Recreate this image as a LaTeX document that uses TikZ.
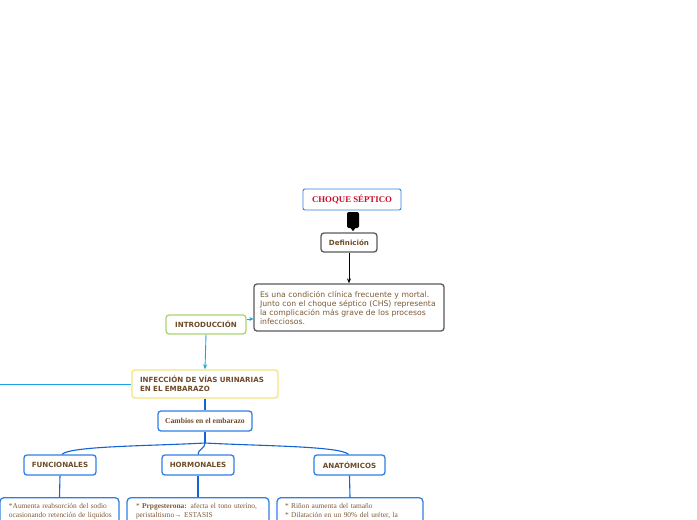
\documentclass[tikz,border=0pt]{standalone}
\usepackage{fontspec}
\setmainfont{Liberation Serif}
\newfontfamily\vfont{DejaVu Sans}
\usetikzlibrary{arrows.meta,calc}
\definecolor{brn}{HTML}{6E4B27}
\definecolor{brnl}{HTML}{7D5A36}
\definecolor{ttlred}{HTML}{C8102E}
\definecolor{bblue}{HTML}{2F7FE6}
\definecolor{lblue}{HTML}{1AA3E8}
\definecolor{dblue}{HTML}{1463D6}
\definecolor{gbord}{HTML}{5A5A5A}
\definecolor{gbox}{HTML}{A9D46E}
\definecolor{ybox}{HTML}{F2E47E}
\tikzset{
  box/.style={draw, rounded corners=3pt, line width=1.3pt, fill=white, inner sep=0pt, text=brn},
  vb/.style={font=\vfont\bfseries\fontsize{7.1}{8.6}\selectfont},
  lowbox/.style={box, draw=bblue, rounded corners=4pt, anchor=north, inner xsep=0pt, inner ysep=5.5pt,
     align=left, text=brnl, font=\fontsize{7.4}{9}\selectfont},
  conn/.style={line width=1.1pt, dblue},
}
\begin{document}
\begin{tikzpicture}[x=1pt,y=-1pt]
\useasboundingbox (0,0) rectangle (697,520);
\clip (0,0) rectangle (697,520);

\node[box, draw=bblue, line width=0.9pt, rounded corners=2pt, minimum width=98pt, minimum height=21pt,
      text=ttlred, font=\bfseries\fontsize{8.8}{10}\selectfont] (choque) at (352,199.5) {CHOQUE SÉPTICO};

\node[fill=black, rounded corners=2pt, minimum width=12pt, minimum height=16pt, inner sep=0pt] (blob) at (353,220) {};
\fill[black] ($(blob.south)+(-3,-1)$) -- ($(blob.south)+(0,3)$) -- ($(blob.south)+(3,-1)$) -- cycle;

\node[box, draw=gbord, minimum width=56pt, minimum height=19pt, vb] (defin) at (349,242.5) {Definición};

\node[box, draw=gbord, minimum width=190pt, minimum height=47pt, text width=178pt, align=left,
      text=brnl, font=\vfont\fontsize{7.7}{9}\selectfont] (defbox) at (349,307.5)
  {\mbox{Es una condición clínica frecuente y mortal.}\\\mbox{Junto con el choque séptico (CHS) representa}\\\mbox{la complicación más grave de los procesos}\\infecciosos.};

\node[box, draw=gbox, minimum width=80pt, minimum height=19pt, vb] (intro) at (206,324.5) {INTRODUCCIÓN};

\node[box, draw=ybox, minimum width=146pt, minimum height=28pt, text width=130pt, align=left, vb] (infec) at (205,384)
  {\mbox{INFECCIÓN DE VÍAS URINARIAS}\\EN EL EMBARAZO};

\node[box, draw=bblue, minimum width=94pt, minimum height=20pt, font=\bfseries\fontsize{7.6}{9}\selectfont] (camb) at (205,421)
  {Cambios en el embarazo};

\node[box, draw=bblue, minimum width=72pt, minimum height=20pt, vb] (fun) at (60,465) {FUNCIONALES};
\node[box, draw=bblue, minimum width=72pt, minimum height=20pt, vb] (hor) at (198,465) {HORMONALES};
\node[box, draw=bblue, minimum width=71pt, minimum height=20pt, vb] (ana) at (349.5,465) {ANATÓMICOS};

\node[lowbox, minimum width=119pt, text width=101pt] (funt) at (59.5,497)
  {\mbox{*Aumenta reabsorción del sodio}\\\mbox{ocasionando retención de liquidos}};
\node[lowbox, minimum width=142pt, text width=124pt] (hort) at (198,497)
  {\mbox{* \textbf{Prpgesterona:} afecta el tono uterino,}\\\mbox{peristaltismo→ ESTASIS}};
\node[lowbox, minimum width=146pt, text width=130pt] (anat) at (350,497)
  {\mbox{* Riñon aumenta del tamaño}\\\mbox{* Dilatación en un 90\% del uréter, la}};

% connectors
\draw[black, line width=0.8pt, -{Stealth[length=5pt,width=4pt]}] (defin.south) -- (defbox.north);
\draw[lblue, line width=0.9pt, -{Stealth[length=4pt,width=4pt]}] ([yshift=5.5pt]intro.east) -- ([yshift=-11.5pt]defbox.west);
\draw[lblue, line width=0.9pt, -{Stealth[length=5pt,width=4pt]}] (intro.south) -- (infec.north);
\coordinate (offl) at (-5,384);
\draw[lblue, line width=1pt] (infec.west) -- (offl);
\draw[conn] (infec.south) -- (camb.north);
\coordinate (br) at (205,443);
\draw[conn] (camb.south) -- (br);
\draw[conn] (br) .. controls (150,446) and (70,446) .. ([xshift=2pt]fun.north);
\draw[conn] (br) .. controls (205,449) and (198,449) .. (hor.north);
\draw[conn] (br) .. controls (260,446) and (340,446) .. ([xshift=-1pt]ana.north);
\draw[conn] (fun.south) -- (funt.north);
\draw[conn] (hor.south) -- (hort.north);
\draw[conn] (ana.south) -- (anat.north);
\end{tikzpicture}
\end{document}
